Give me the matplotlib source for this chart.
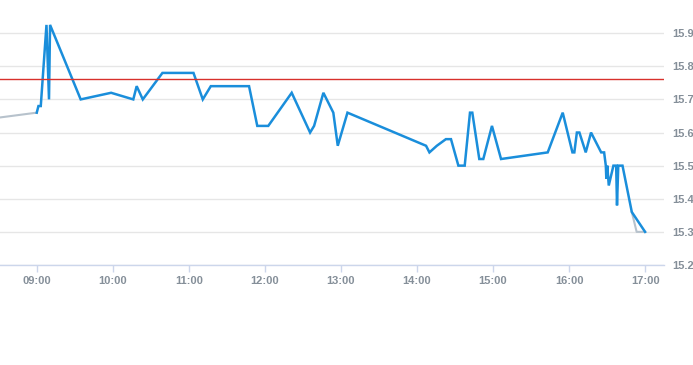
import numpy as np
import pandas as pd
import matplotlib
matplotlib.use("Agg")
import matplotlib.pyplot as plt
import matplotlib.dates as mdates

day = "2024-01-02 "

# intraday trades (blue)
times = ["09:00", "09:01:20", "09:03:10", "09:07:40", "09:09:40", "09:10:30",
         "09:34:40", "09:58:40", "10:16:10", "10:18:50", "10:23:40", "10:39:10",
         "11:03:40", "11:11", "11:17:20", "11:47:30", "11:54", "12:02:40",
         "12:21:10", "12:35:40", "12:38:50", "12:46:10", "12:54", "12:57:30",
         "13:05:10", "14:07:10", "14:09:50", "14:15:40", "14:22:50", "14:26:50",
         "14:32:40", "14:37:40", "14:41:50", "14:43:40", "14:49:10", "14:52:20",
         "14:59:10", "15:06:20", "15:43:10", "15:55", "16:02:40", "16:04:10",
         "16:06:10", "16:08:10", "16:13:10", "16:17:20", "16:25:20", "16:27:40",
         "16:29", "16:29:25", "16:30:10", "16:31:20", "16:35", "16:37:10",
         "16:37:50", "16:38:50", "16:42:10", "16:49:30", "17:00"]
prices = [15.66, 15.68, 15.68, 15.925, 15.70, 15.925,
          15.70, 15.72, 15.70, 15.74, 15.70, 15.78,
          15.78, 15.70, 15.74, 15.74, 15.62, 15.62,
          15.72, 15.60, 15.62, 15.72, 15.66, 15.56,
          15.66, 15.56, 15.54, 15.56, 15.58, 15.58,
          15.50, 15.50, 15.66, 15.66, 15.52, 15.52,
          15.62, 15.52, 15.54, 15.66, 15.54, 15.54,
          15.60, 15.60, 15.54, 15.60, 15.54, 15.54,
          15.50, 15.46, 15.50, 15.44, 15.50, 15.50,
          15.38, 15.50, 15.50, 15.36, 15.30]

# out-of-session (grey)
pre_times = ["08:30", "09:00"]
pre_prices = [15.645, 15.66]
post_times = ["16:49:30", "16:53:20", "17:00"]
post_prices = [15.36, 15.30, 15.30]

ref_price = 15.762

yticks = [15.2, 15.3, 15.4, 15.5, 15.6, 15.7, 15.8, 15.9]
xticks = ["09:00", "10:00", "11:00", "12:00", "13:00", "14:00", "15:00", "16:00", "17:00"]


def ts(lst):
    return pd.to_datetime([day + t for t in lst], format="mixed")


label_color = "#858f99"
grid_color = "#e6e6e6"
axis_color = "#ccd6eb"

fig = plt.figure(figsize=(6.93, 3.65), dpi=100)
ax = fig.add_axes([0, 0.274, 0.9577, 0.685])

ax.plot(ts(pre_times), pre_prices, color="#b7c2cc", lw=1.5, zorder=2)
ax.plot(ts(post_times), post_prices, color="#b7c2cc", lw=1.5, zorder=2)
ax.plot(ts(times), prices, color="#1a8edb", lw=1.8, zorder=3, solid_joinstyle="miter")
ax.axhline(ref_price, color="#d8312c", lw=1, zorder=4)

ax.set_xlim(pd.Timestamp(day + "08:31"), pd.Timestamp(day + "17:14:40"))
ax.set_ylim(15.2, 15.955)

ax.set_xticks(ts(xticks))
ax.xaxis.set_major_formatter(mdates.DateFormatter("%H:%M"))
ax.set_yticks(yticks)
ax.set_yticklabels([f"{v:.1f}" for v in yticks])
ax.yaxis.tick_right()

ax.grid(axis="y", color=grid_color, lw=1)
ax.set_axisbelow(True)
for s in ["top", "left", "right"]:
    ax.spines[s].set_visible(False)
ax.spines["bottom"].set_color(axis_color)
ax.spines["bottom"].set_linewidth(1)

ax.tick_params(axis="x", colors=axis_color, length=5, width=1, pad=3,
               labelcolor=label_color, labelsize=8)
ax.tick_params(axis="y", length=0, pad=6.5, labelcolor=label_color, labelsize=8)
for lab in ax.get_xticklabels() + ax.get_yticklabels():
    lab.set_fontfamily("Liberation Sans")
    lab.set_fontweight("bold")

fig.savefig("out.png", dpi=100)
